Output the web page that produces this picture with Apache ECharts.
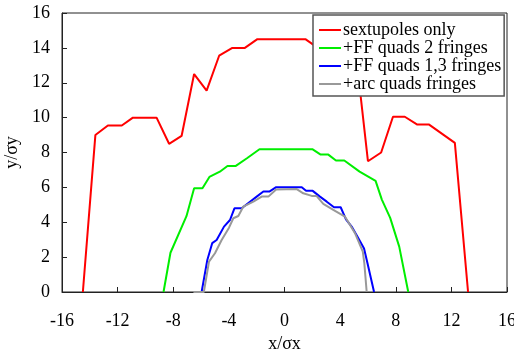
<!DOCTYPE html>
<html>
<head>
<meta charset="utf-8">
<script src="https://cdn.jsdelivr.net/npm/echarts@6/dist/echarts.min.js"></script>
<style>
html,body{margin:0;padding:0;background:#fff;}
#chart{width:514px;height:350px;}
</style>
</head>
<body>
<div id="chart"></div>
<script>
var seriesNames = ['sextupoles only', '+FF quads 2 fringes', '+FF quads 1,3 fringes', '+arc quads fringes'];
var xTicks = [-16, -12, -8, -4, 0, 4, 8, 12, 16];
var yTicks = [0, 2, 4, 6, 8, 10, 12, 14, 16];

var redX = [-14.5, -13.6, -12.7, -11.7, -10.9, -9.2, -8.3, -7.4, -6.5, -5.6, -4.7, -3.75, -2.85, -1.95, 1.5, 2.4, 3.3, 4.2, 5.2, 6.0, 6.95, 7.8, 8.65, 9.55, 10.4, 12.25, 13.2];
var redY = [0, 9.0, 9.55, 9.55, 10.0, 10.0, 8.5, 8.95, 12.5, 11.55, 13.55, 14.0, 14.0, 14.5, 14.5, 14.0, 14.0, 13.5, 13.2, 7.5, 8.0, 10.05, 10.05, 9.6, 9.6, 8.55, 0];

var greenX = [-8.7, -8.2, -7.05, -6.5, -5.9, -5.4, -4.65, -4.1, -3.5, -2.7, -1.8, 2.0, 2.6, 3.15, 3.7, 4.3, 5.4, 6.55, 7.0, 7.6, 8.25, 8.9];
var greenY = [0, 2.25, 4.35, 5.95, 5.95, 6.6, 6.9, 7.23, 7.23, 7.67, 8.19, 8.19, 7.88, 7.88, 7.54, 7.54, 6.9, 6.37, 5.3, 4.25, 2.6, 0];

var blueX = [-5.96, -5.55, -5.2, -4.88, -4.35, -3.92, -3.6, -3.08, -2.48, -2.0, -1.52, -1.09, -0.6, 1.24, 1.55, 2.03, 2.55, 3.04, 3.56, 4.04, 4.42, 4.83, 5.24, 5.72, 5.96, 6.44];
var blueY = [0, 1.84, 2.8, 2.98, 3.75, 4.13, 4.8, 4.8, 5.18, 5.47, 5.76, 5.76, 6.01, 6.01, 5.8, 5.8, 5.47, 5.18, 4.86, 4.86, 4.17, 3.75, 3.18, 2.5, 1.68, 0];

var grayX = [-6.55, -5.8, -5.43, -5.0, -4.52, -3.99, -3.68, -3.32, -2.96, -2.24, -1.64, -1.16, -0.6, 0.88, 1.35, 1.96, 2.3, 2.79, 3.51, 4.35, 4.71, 5.07, 5.63, 5.74, 5.91];
var grayY = [0, 0, 1.74, 2.22, 2.98, 3.69, 4.23, 4.36, 4.9, 5.18, 5.47, 5.47, 5.88, 5.9, 5.66, 5.51, 5.51, 5.05, 4.71, 4.32, 3.85, 3.37, 2.31, 1.65, 0];

var colors = ['#ff0000', '#00ee00', '#0000ff', '#999999'];

function pairs(xs, ys) {
  var out = [];
  for (var i = 0; i < xs.length; i++) out.push([xs[i], ys[i]]);
  return out;
}
var allData = [pairs(redX, redY), pairs(greenX, greenY), pairs(blueX, blueY), pairs(grayX, grayY)];

var FONT = '"Liberation Serif", "Times New Roman", serif';

var chart = echarts.init(document.getElementById('chart'), null, {renderer: 'canvas'});
var series = seriesNames.map(function (n, i) {
  return {
    name: n,
    type: 'line',
    data: allData[i],
    showSymbol: false,
    symbol: 'none',
    lineStyle: {color: colors[i], width: 2},
    itemStyle: {color: colors[i]},
    z: 2 + i,
    animation: false
  };
});

chart.setOption({
  animation: false,
  backgroundColor: '#fff',
  grid: {left: 62, right: 7, top: 13, bottom: 58, containLabel: false, outerBoundsMode: 'none',
    show: true, borderColor: '#222', borderWidth: 1, backgroundColor: 'transparent'},
  legend: {
    data: seriesNames,
    orient: 'vertical',
    left: 313,
    top: 15,
    padding: [6, 3, 3, 6],
    itemGap: 0,
    itemWidth: 22,
    itemHeight: 2,
    icon: 'rect',
    backgroundColor: '#fff',
    borderColor: '#555',
    borderWidth: 1.5,
    borderRadius: 0,
    textStyle: {fontFamily: FONT, fontSize: 18, color: '#000', lineHeight: 17, padding: [0, 0, 0, -3]}
  },
  xAxis: {
    type: 'value',
    min: -16, max: 16, interval: 4,
    name: 'x/σx',
    nameLocation: 'middle',
    nameGap: 35,
    nameTextStyle: {fontFamily: FONT, fontSize: 18, color: '#000'},
    axisLine: {show: true, onZero: false, lineStyle: {color: '#222', width: 1}},
    axisTick: {show: true, inside: true, length: 5, lineStyle: {color: '#222'}},
    axisLabel: {fontFamily: FONT, fontSize: 18, color: '#000', margin: 20,
      formatter: function (v) { return xTicks.indexOf(v) >= 0 ? String(v) : ''; }},
    splitLine: {show: false}
  },
  yAxis: {
    type: 'value',
    min: 0, max: 16, interval: 2,
    name: 'y/σy',
    nameLocation: 'middle',
    nameGap: 40,
    nameRotate: 90,
    nameTextStyle: {fontFamily: FONT, fontSize: 18, color: '#000'},
    axisLine: {show: true, onZero: false, lineStyle: {color: '#222', width: 1}},
    axisTick: {show: true, inside: true, length: 5, lineStyle: {color: '#222'}},
    axisLabel: {fontFamily: FONT, fontSize: 18, color: '#000', margin: 12,
      formatter: function (v) { return yTicks.indexOf(v) >= 0 ? String(v) : ''; }},
    splitLine: {show: false}
  },
  series: series
});
</script>
</body>
</html>
